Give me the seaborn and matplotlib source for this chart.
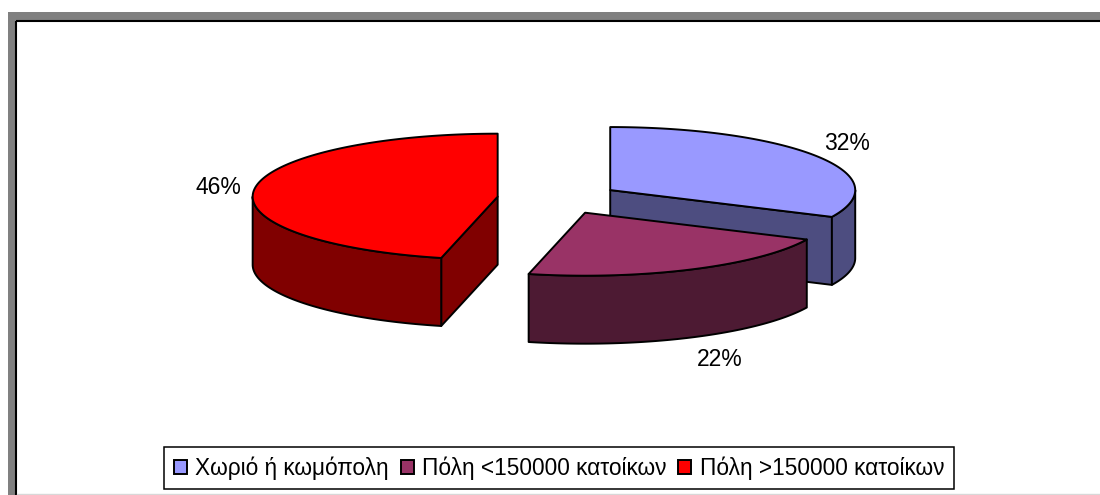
import numpy as np
import matplotlib
matplotlib.use('Agg')
import matplotlib.pyplot as plt
import seaborn as sns
from matplotlib.patches import Patch, Rectangle

categories = ['Χωριό ή κωμόπολη', 'Πόλη <150000 κατοίκων', 'Πόλη >150000 κατοίκων']
shares = [32.0, 21.7, 46.3]
top_colors = ['#9999FF', '#993366', '#FF0000']
side_colors = ['#4D4D80', '#4D1A33', '#800000']

sns.set_theme(style='white')
plt.rcParams['font.family'] = ['Liberation Sans', 'DejaVu Sans']
plt.rcParams['text.color'] = 'black'

# pie geometry in pixels of the figure
CX, CY = 558.5, 198.5
RX, RY = 245, 63
DEPTH = 68
EXPLODE = 0.25
EDGE = 1.4


def rim(ax_cx, ax_cy, a0, a1, dy=0):
    t = np.radians(np.linspace(a0, a1, 200))
    return ax_cx + RX * np.sin(t), ax_cy - RY * np.cos(t) + dy


fig, ax = plt.subplots(figsize=(11, 4.95), dpi=100)
ax.set_position([0, 0, 1, 1])
ax.set_xlim(0, 1100)
ax.set_ylim(495, 0)
ax.axis('off')

# grey frame at top and left, thin line at the bottom
ax.add_patch(Rectangle((8, 12), 1092, 8.5, color='#808080', lw=0))
ax.add_patch(Rectangle((8, 12), 7.5, 483, color='#808080', lw=0))
ax.plot([15.5, 1100], [21, 21], color='black', lw=1.5, solid_capstyle='butt')
ax.plot([16, 16], [21, 495], color='black', lw=1.5, solid_capstyle='butt')
ax.plot([17, 1100], [494, 494], color='#D8D8D8', lw=1)

edges = np.cumsum([0] + shares) * 3.6


def poly(x, y, color, z):
    ax.fill(x, y, facecolor=color, edgecolor='black', lw=EDGE, joinstyle='round', zorder=z)


for i in [0, 2, 1]:
    a0, a1 = edges[i], edges[i + 1]
    mid = np.radians((a0 + a1) / 2)
    ox = CX + EXPLODE * RX * np.sin(mid)
    oy = CY - EXPLODE * RY * np.cos(mid)
    z = 3 + [0, 2, 1].index(i) * 3

    # cut faces turned to the viewer
    if i == 0:
        ex, ey = rim(ox, oy, a1, a1)
        poly([ox, ex[0], ex[0], ox], [oy, ey[0], ey[0] + DEPTH, oy + DEPTH], side_colors[i], z)
    if i == 2:
        ex, ey = rim(ox, oy, a0, a0)
        poly([ox, ex[0], ex[0], ox], [oy, ey[0], ey[0] + DEPTH, oy + DEPTH], side_colors[i], z)

    # outer wall, only the part in front
    w0, w1 = max(a0, 90), min(a1, 270)
    wx, wy = rim(ox, oy, w0, w1)
    poly(np.r_[wx, wx[::-1]], np.r_[wy, wy[::-1] + DEPTH], side_colors[i], z + 1)

    # top face
    tx, ty = rim(ox, oy, a0, a1)
    poly(np.r_[ox, tx], np.r_[oy, ty], top_colors[i], z + 2)

# percent labels
label_x = [847, 720, 218]
label_y = [143, 360, 187]
for s, lx, ly in zip(shares, label_x, label_y):
    ax.text(lx, ly, f'{round(s)}%', fontsize=16.5, color='black', ha='center', va='center', zorder=20)

handles = [Patch(facecolor=c, edgecolor='black', lw=1.4) for c in top_colors]
leg = ax.legend(
    handles, categories, ncol=3, loc='center',
    bbox_to_anchor=(559 / 1100, 1 - 468 / 495), fontsize=16.3, labelcolor='black',
    frameon=True, fancybox=False, framealpha=1, edgecolor='black',
    handlelength=0.58, handleheight=0.58, handletextpad=0.36,
    columnspacing=0.52, borderpad=0.42, borderaxespad=0,
)
leg.set_zorder(20)
leg.get_frame().set_linewidth(1.1)

fig.savefig('out.png', dpi=100, facecolor='white')
